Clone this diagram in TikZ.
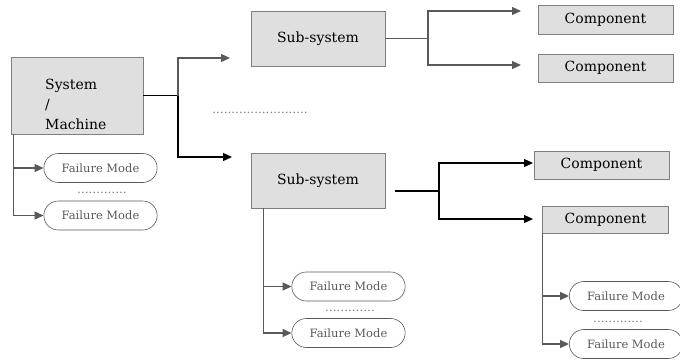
\documentclass[tikz,border=0pt]{standalone}
\usepackage{fontspec}
\setmainfont{DejaVu Serif}
\usepackage{tikz}
\usetikzlibrary{arrows.meta,shapes.misc}

\definecolor{boxgray}{HTML}{DFDFDF}
\definecolor{edgegray}{HTML}{7F7F7F}
\definecolor{linegray}{HTML}{595959}

\begin{document}
\begin{tikzpicture}[x=1pt,y=-1pt,>={Triangle[length=9pt,width=8pt]},
                    blok/.style={draw=edgegray,fill=boxgray,semithick,font=\fontsize{14}{20}\selectfont},
                    fmode/.style={rounded rectangle,draw=linegray,semithick,text=linegray,
                                  minimum width=120pt,minimum height=29pt,font=\fontsize{11.5}{13}\selectfont},
                    dots/.style={text=edgegray,inner sep=0pt,font=\fontsize{12}{12}\selectfont},
                    gline/.style={draw=linegray,line width=1.3pt},
                    bline/.style={draw=black,line width=1.3pt}]
    \useasboundingbox (0,0) rectangle (680,360);

    % boxes
    \node [blok,minimum width=132pt,minimum height=77pt] (sys) at (77,95.5) {};
    \node [anchor=north west,align=left,inner sep=0pt,font=\fontsize{14}{20}\selectfont]
          (systext) at (45,79) {System\\/\\Machine};
    \node [blok,minimum width=134pt,minimum height=55pt] (ss1) at (318,38.5) {Sub-system};
    \node [blok,minimum width=134pt,minimum height=55pt] (ss2) at (318,180.5) {Sub-system};
    \node [blok,minimum width=135pt,minimum height=29pt] (c1) at (605.5,19.5) {Component};
    \node [blok,minimum width=135pt,minimum height=28pt] (c2) at (605.5,68) {Component};
    \node [blok,minimum width=135pt,minimum height=28pt] (c3) at (601.5,165) {Component};
    \node [blok,minimum width=126pt,minimum height=27pt] (c4) at (605.5,219.5) {Component};

    % failure modes
    \node [fmode] (fm1) at (100.5,168)   {Failure Mode};
    \node [fmode] (fm2) at (100.5,215.5) {Failure Mode};
    \node [fmode] (fm3) at (348.5,286.5) {Failure Mode};
    \node [fmode] (fm4) at (348.5,333)   {Failure Mode};
    \node [fmode] (fm5) at (626,296)     {Failure Mode};
    \node [fmode] (fm6) at (626,344)     {Failure Mode};

    \node [dots] (d1) at (102,193) {.............};
    \node [dots] (d2) at (260,113) {.........................};
    \node [dots] (d3) at (350,311) {.............};
    \node [dots] (d4) at (618,322) {.............};

    % junctions and free arrow ends
    \coordinate (j1) at (178,95.5);
    \coordinate (a1) at (230,58);
    \coordinate (a2) at (232,157);
    \coordinate (j2) at (428,38.5);
    \coordinate (a3) at (521,11);
    \coordinate (a4) at (521,65);
    \coordinate (s2) at (395,191);
    \coordinate (j3) at (439,191);
    \coordinate (a5) at (533,163);
    \coordinate (a6) at (533,219);

    \path [bline] (sys.east) -- (j1);
    \path [gline,->] (j1) |- (a1);
    \path [bline,->] (j1) |- (a2);

    \path [gline] (ss1.east) -- (j2);
    \path [gline,->] (j2) |- (a3);
    \path [gline,->] (j2) |- (a4);

    \path [bline] (s2) -- (j3);
    \path [bline,->] (j3) |- (a5);
    \path [bline,->] (j3) |- (a6);

    \path [gline,->] ([xshift=3pt]sys.south west) |- (fm1.west);
    \path [gline,->] ([xshift=3pt]sys.south west) |- (fm2.west);
    \path [gline,->] ([xshift=13pt]ss2.south west) |- (fm3.west);
    \path [gline,->] ([xshift=13pt]ss2.south west) |- (fm4.west);
    \path [gline,->] (c4.south west) |- (fm5.west);
    \path [gline,->] (c4.south west) |- (fm6.west);
\end{tikzpicture}
\end{document}
